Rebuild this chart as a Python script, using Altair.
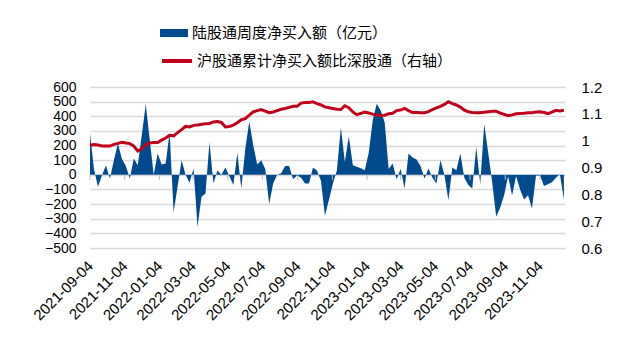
import altair as alt
import pandas as pd

# ---------------- data ----------------
WEEK_START = "2021-09-04"

# weekly net buy of northbound connect (100 million CNY)
NET_BUY = [
    282, 40, -82, -5, 66, -25, 100, 214, 110, 60,
    -25, 111, 66, 270, 482, 240, 0, 145, 70, 77,
    290, -255, -80, 100, 0, -55, 43, -355, -150, -127,
    225, -59, 30, 0, 50, -10, -70, 150, -93, 180,
    365, 200, 70, 100, 40, -200, -60, 0, 10, 60,
    60, -30, -5, -20, -59, -59, 50, 30, -40, -280,
    -170, -60, 30, 323, 89, 262, 66, 55, 45, 32,
    150, 373, 486, 440, 360, 40, 77, -30, 40, -93,
    145, 118, 105, 60, -25, 43, -20, -59, 100, 0,
    -173, 50, 32, 145, -20, -70, -93, 190, -64, 345,
    150, -50, -286, -225, -140, -10, -139, -10, -100, -168,
    -139, -230, -5, -5, -77, -65, -50, -20, 5, -168,
]

# cumulative net buy ratio: Shanghai connect / Shenzhen connect (right axis)
RATIO = [
    0.983, 0.986, 0.984, 0.980, 0.980, 0.980, 0.986, 0.990, 0.994, 0.991,
    0.989, 0.980, 0.961, 0.970, 0.985, 0.991, 0.993, 0.993, 1.002, 1.010,
    1.020, 1.018, 1.030, 1.041, 1.053, 1.051, 1.057, 1.058, 1.061, 1.063,
    1.064, 1.070, 1.071, 1.068, 1.051, 1.053, 1.058, 1.067, 1.078, 1.082,
    1.095, 1.107, 1.112, 1.116, 1.110, 1.104, 1.107, 1.112, 1.117, 1.120,
    1.124, 1.128, 1.128, 1.140, 1.142, 1.142, 1.145, 1.138, 1.133, 1.126,
    1.123, 1.120, 1.117, 1.116, 1.130, 1.123, 1.107, 1.097, 1.102, 1.107,
    1.103, 1.099, 1.096, 1.094, 1.095, 1.100, 1.102, 1.112, 1.114, 1.120,
    1.112, 1.105, 1.105, 1.104, 1.104, 1.108, 1.116, 1.122, 1.128, 1.135,
    1.145, 1.138, 1.133, 1.125, 1.114, 1.108, 1.105, 1.104, 1.104, 1.106,
    1.108, 1.110, 1.110, 1.103, 1.098, 1.093, 1.096, 1.100, 1.101, 1.102,
    1.104, 1.104, 1.107, 1.108, 1.105, 1.101, 1.106, 1.113, 1.111, 1.113,
]

X_TICKS = [
    "2021-09-04", "2021-11-04", "2022-01-04", "2022-03-04", "2022-05-04",
    "2022-07-04", "2022-09-04", "2022-11-04", "2023-01-04", "2023-03-04",
    "2023-05-04", "2023-07-04", "2023-09-04", "2023-11-04",
]
X_DOMAIN = ["2021-09-04", "2023-12-18"]
LEFT_TICKS = [-500, -400, -300, -200, -100, 0, 100, 200, 300, 400, 500, 600]
RIGHT_TICKS = [0.6, 0.7, 0.8, 0.9, 1.0, 1.1, 1.2]

AREA_NAME = "陆股通周度净买入额（亿元）"
LINE_NAME = "沪股通累计净买入额比深股通（右轴）"

BLUE = "#004B8D"
RED = "#C0001A"
GRID = "#d9d9d9"
CJK = "Noto Sans CJK SC"
LATIN = "Liberation Sans"

assert len(NET_BUY) == len(RATIO)


def ms(d):
    return int(pd.Timestamp(d, tz="UTC").value // 10**6)


dates = pd.date_range(WEEK_START, periods=len(NET_BUY), freq="7D")
df = pd.DataFrame({
    "date": dates.strftime("%Y-%m-%d"),
    "net": NET_BUY,
    "ratio": RATIO,
    "s1": AREA_NAME,
    "s2": LINE_NAME,
})
tick_df = pd.DataFrame({"date": X_TICKS})

x_axis = alt.Axis(
    values=[ms(d) for d in X_TICKS],
    labelExpr="utcFormat(datum.value, '%Y-%m-%d')",
    labelAngle=-45,
    labelAlign="right",
    labelBaseline="middle",
    labelPadding=15,
    labelFont=LATIN,
    labelFontSize=15,
    labelColor="#000000",
    labelOverlap=False,
    labelFlush=False,
    domain=False,
    ticks=False,
    grid=False,
    title=None,
)
x_scale = alt.Scale(type="utc", domain=[ms(d) for d in X_DOMAIN])
left_scale = alt.Scale(domain=[-500, 600], nice=False, zero=True)

area = alt.Chart(df).mark_area(opacity=1, interpolate="linear").encode(
    x=alt.X("date:T", scale=x_scale, axis=x_axis),
    y=alt.Y(
        "net:Q",
        scale=left_scale,
        axis=alt.Axis(
            values=LEFT_TICKS,
            grid=True,
            gridColor=GRID,
            gridWidth=1.5,
            domain=False,
            ticks=False,
            labelPadding=14,
            labelFont=LATIN,
            labelFontSize=14,
            labelColor="#000000",
            labelOverlap=False,
            labelFlush=False,
            title=None,
        ),
    ),
    fill=alt.Fill(
        "s1:N",
        scale=alt.Scale(domain=[AREA_NAME], range=[BLUE]),
        legend=alt.Legend(
            orient="none",
            legendX=70,
            legendY=-68,
            title=None,
            padding=0,
            symbolType="M-1,-0.29H1V0.29H-1Z",
            symbolSize=784,
            symbolStrokeWidth=0,
            symbolOpacity=1,
            labelFont=CJK,
            labelFontSize=15,
            labelColor="#000000",
            labelOffset=4,
            labelLimit=600,
        ),
    ),
)

# small category ticks sitting under the zero line
zero_ticks = alt.Chart(tick_df).mark_rule(color="#bfbfbf", strokeWidth=1).encode(
    x=alt.X("date:T", scale=x_scale, axis=x_axis),
    y=alt.datum(0, scale=left_scale, axis=None),
    y2=alt.datum(-35),
)

line = alt.Chart(df).mark_line(strokeWidth=3, interpolate="linear").encode(
    x=alt.X("date:T", scale=x_scale, axis=x_axis),
    y=alt.Y(
        "ratio:Q",
        scale=alt.Scale(domain=[0.6, 1.2], nice=False, zero=False),
        axis=alt.Axis(
            orient="right",
            values=RIGHT_TICKS,
            format="~g",
            grid=False,
            domain=False,
            ticks=False,
            labelPadding=16,
            labelFont=LATIN,
            labelFontSize=15,
            labelColor="#000000",
            labelOverlap=False,
            labelFlush=False,
            title=None,
        ),
    ),
    stroke=alt.Stroke(
        "s2:N",
        scale=alt.Scale(domain=[LINE_NAME], range=[RED]),
        legend=alt.Legend(
            orient="none",
            legendX=70,
            legendY=-43,
            title=None,
            padding=0,
            symbolType="M-1,0H1",
            symbolSize=900,
            symbolStrokeWidth=4,
            labelFont=CJK,
            labelFontSize=15,
            labelColor="#000000",
            labelOffset=3,
            labelLimit=600,
        ),
    ),
)

chart = (
    alt.layer(area, zero_ticks, line)
    .resolve_scale(y="independent")
    .properties(
        width=475,
        height=161,
        padding={"left": 90, "top": 87, "right": 64, "bottom": 103},
        autosize=alt.AutoSizeParams(type="none"),
        background="#ffffff",
    )
    .configure_view(stroke=None)
    .configure_axis(labelOverlap=False)
)

chart.save("out.html", embed_options={"renderer": "svg", "actions": False})
